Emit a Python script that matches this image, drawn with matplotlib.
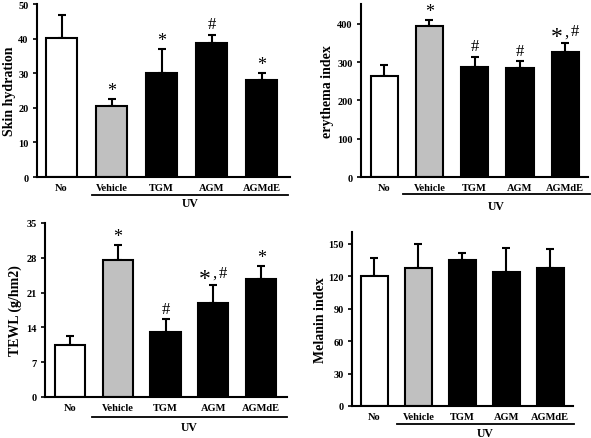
import matplotlib
matplotlib.use("Agg")
import matplotlib.pyplot as plt
from matplotlib.lines import Line2D
import numpy as np

plt.rcParams['font.family'] = ['Liberation Serif', 'DejaVu Serif']
plt.rcParams['font.weight'] = 'bold'

categories = ["No", "Vehicle", "TGM", "AGM", "AGMdE"]
colors = ["white", "#c0c0c0", "black", "black", "black"]

hydration = [40.3, 20.6, 30.1, 38.7, 28.1]
hydration_err = [6.5, 1.8, 6.9, 2.4, 1.9]
hydration_marks = ["", "*", "*", "#", "*"]

erythema = [265, 395, 287, 285, 326]
erythema_err = [28, 15, 26, 17, 23]
erythema_marks = ["", "*", "#", "#", "*,#"]

tewl = [10.4, 27.6, 13.1, 18.9, 23.7]
tewl_err = [1.8, 3.0, 2.5, 3.6, 2.7]
tewl_marks = ["", "*", "#", "*,#", "*"]

melanin = [120, 128, 135, 124, 128]
melanin_err = [17, 22, 7, 22, 17]
melanin_marks = ["", "", "", "", ""]

W, H = 591, 439
fig = plt.figure(figsize=(W / 100, H / 100), dpi=100)


def px_axes(left, top, right, bottom):
    return fig.add_axes([left / W, 1 - bottom / H, (right - left) / W, (bottom - top) / H])


def panel(box, vals, errs, marks, ylim, yticks, ylabel, xlim, width, ylab_x,
          ul, uv_y):
    ax = px_axes(*box)
    x = np.arange(len(categories))
    ax.bar(x, vals, width=width, color=colors, edgecolor="black", linewidth=1.5, zorder=2)
    ax.errorbar(x, vals, yerr=[np.zeros(len(vals)), errs], fmt="none", ecolor="black",
                elinewidth=1.5, capsize=3, capthick=1.5, zorder=1)
    ax.set_ylim(*ylim)
    ax.set_xlim(*xlim)
    ax.set_yticks(yticks)
    ax.set_yticklabels([str(t) for t in yticks], fontsize=7.5, fontweight="bold")
    ax.set_xticks(x)
    ax.set_xticklabels(categories, fontsize=7.5, fontweight="bold")
    ax.tick_params(axis="x", length=0, pad=4.5)
    ax.tick_params(axis="y", length=3, width=1.2, direction="out", pad=3)
    for s in ["top", "right"]:
        ax.spines[s].set_visible(False)
    for s in ["left", "bottom"]:
        ax.spines[s].set_linewidth(1.5)
    for xi, v, e, m in zip(x, vals, errs, marks):
        if not m:
            continue
        if m == "*,#":
            ax.annotate("*", (xi, v + e), xytext=(-6.5, -2.5), textcoords="offset points",
                        ha="center", va="bottom", fontsize=17, fontweight="normal")
            ax.annotate(",", (xi, v + e), xytext=(0.5, 3), textcoords="offset points",
                        ha="center", va="bottom", fontsize=12, fontweight="normal")
            ax.annotate("#", (xi, v + e), xytext=(7, 3), textcoords="offset points",
                        ha="center", va="bottom", fontsize=12, fontweight="normal")
        elif m == "*":
            ax.annotate("*", (xi, v + e), xytext=(0, 0), textcoords="offset points",
                        ha="center", va="bottom", fontsize=13, fontweight="normal")
        else:
            ax.annotate(m, (xi, v + e), xytext=(0, 2), textcoords="offset points",
                        ha="center", va="bottom", fontsize=12, fontweight="normal")
    fig.text(ylab_x / W, 1 - ((box[1] + box[3]) / 2) / H, ylabel, rotation=90,
             ha="center", va="center", fontsize=10, fontweight="bold")
    x0, x1, yl = ul
    fig.add_artist(Line2D([x0 / W, x1 / W], [1 - yl / H, 1 - yl / H], color="black", lw=1.3))
    fig.text(((x0 + x1) / 2) / W, 1 - uv_y / H, "UV", ha="center", va="center",
             fontsize=8.5, fontweight="bold")
    return ax


panel((37, 5, 290, 178), hydration, hydration_err, hydration_marks, (0, 50),
      [0, 10, 20, 30, 40, 50], "Skin hydration", (-0.49, 4.56), 0.62, 10,
      (92, 288, 196), 204)

panel((361, 5, 588, 178), erythema, erythema_err, erythema_marks, (0, 452),
      [0, 100, 200, 300, 400], "erythema index", (-0.51, 4.5), 0.6, 328,
      (403, 590, 195), 207)

panel((45, 224, 287, 398), tewl, tewl_err, tewl_marks, (0, 35),
      [0, 7, 14, 21, 28, 35], "TEWL (g/hm2)", (-0.52, 4.54), 0.63, 15,
      (92, 287, 418), 428)

panel((352, 233, 573, 407), melanin, melanin_err, melanin_marks, (0, 161),
      [0, 30, 60, 90, 120, 150], "Melanin index", (-0.51, 4.52), 0.61, 320,
      (397, 574, 425), 434)

fig.savefig("out.png", dpi=100)
